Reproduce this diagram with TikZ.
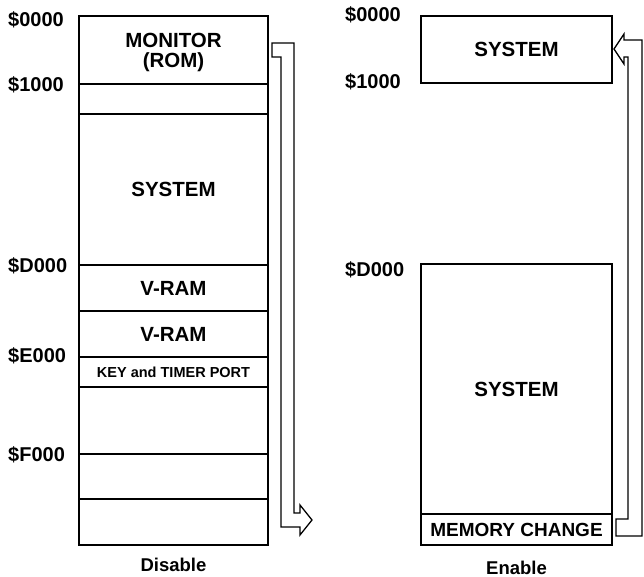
\documentclass[tikz,border=0pt]{standalone}
\usepackage{fontspec}
\setmainfont{Liberation Sans}
\newcommand\addrfont{\fontsize{20}{22}\selectfont\bfseries}
\newcommand\cellfont{\fontsize{20.5}{19.5}\selectfont\bfseries}
\newcommand\smallcellfont{\fontsize{14.5}{16}\selectfont\bfseries}
\newcommand\memfont{\fontsize{19}{20}\selectfont\bfseries}
\newcommand\capfont{\fontsize{18.5}{20}\selectfont\bfseries}
\begin{document}
\begin{tikzpicture}[x=1pt,y=-1pt,
  cell/.style={draw, line width=1.3pt, inner sep=0pt, outer sep=0pt, anchor=north west, align=center, font=\cellfont},
  lcell/.style={cell, minimum width=189pt},
  rcell/.style={cell, minimum width=191pt},
  addr/.style={anchor=base west, inner sep=0pt, font=\addrfont},
  caption/.style={inner sep=0pt, font=\capfont},
  blockarrow/.style={draw, line width=1.3pt, line join=miter}]
\useasboundingbox (0,0) rectangle (644,577);
% left map (Disable)
\node[lcell, minimum height=68pt] (mon) at (79,16) {};
\node[inner sep=0pt, font=\cellfont, align=center] (montxt) at (173.5,52.5) {\shortstack{MONITOR\\[2.5pt](ROM)}};
\node[lcell, minimum height=30pt] (l1) at (79,84) {};
\node[lcell, minimum height=151pt] (lsys) at (79,114) {SYSTEM};
\node[lcell, minimum height=46pt] (vr1) at (79,265) {V-RAM};
\node[lcell, minimum height=46pt] (vr2) at (79,311) {V-RAM};
\node[lcell, minimum height=30pt, font=\smallcellfont] (key) at (79,357) {KEY and TIMER PORT};
\node[lcell, minimum height=67pt] (l2) at (79,387) {};
\node[lcell, minimum height=45pt] (l3) at (79,454) {};
\node[lcell, minimum height=46pt] (l4) at (79,499) {};
\node[caption] (dis) at (173.5,565) {Disable};
% left addresses
\node[addr] (a0) at (8,27) {\$0000};
\node[addr] (a1) at (8,92) {\$1000};
\node[addr] (ad) at (8,272) {\$D000};
\node[addr] (ae) at (8,362) {\$E000};
\node[addr] (af) at (8,461) {\$F000};
% right map (Enable)
\node[rcell, minimum height=67pt] (rsys1) at (421,16) {SYSTEM};
\node[rcell, minimum height=250pt] (rsys2) at (421,264) {SYSTEM};
\node[rcell, minimum height=31pt, font=\memfont] (mem) at (421,514) {MEMORY CHANGE};
\node[caption] (ena) at (516.5,568) {Enable};
% right addresses
\node[addr] (b0) at (345,21.5) {\$0000};
\node[addr] (b1) at (345,89) {\$1000};
\node[addr] (bd) at (345,276) {\$D000};
% hollow arrows
\draw[blockarrow] (272,43) -- (294,43) -- (294,513) -- (300,513) -- (300,505)
  -- (312,520) -- (300,535) -- (300,527) -- (281,527) -- (281,57) -- (272,57) -- cycle;
\draw[blockarrow] (616,519) -- (628,519) -- (628,57) -- (624,57) -- (624,64)
  -- (614,49) -- (624,34) -- (624,40) -- (642,40) -- (642,536) -- (616,536) -- cycle;
\end{tikzpicture}
\end{document}
